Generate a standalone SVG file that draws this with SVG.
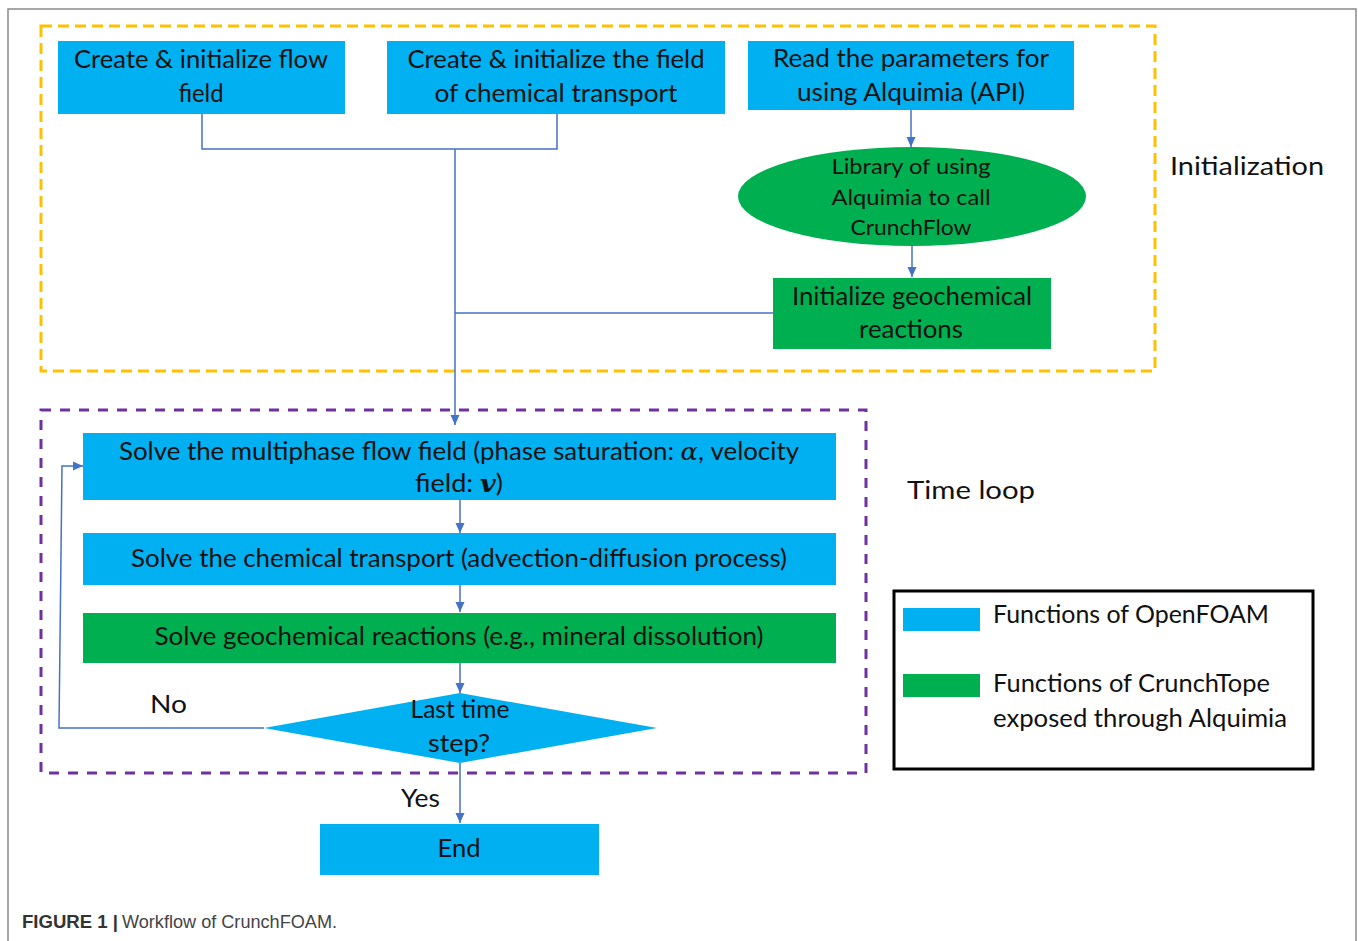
<svg xmlns="http://www.w3.org/2000/svg" width="1358" height="941" viewBox="0 0 1358 941">
<style>
.blue{fill:#00B0F0}
.green{fill:#00B050}
.t{font-family:Lato,"Open Sans","Liberation Sans",sans-serif;font-size:25px;fill:#111;text-anchor:middle}
.ts{font-size:22px}
.l{font-family:Lato,"Open Sans","Liberation Sans",sans-serif;font-size:25px;fill:#111}
.conn{fill:none;stroke:#4472C4;stroke-width:1.5}
.m{font-family:"DejaVu Serif","Liberation Serif",serif;font-style:italic}
</style>
<defs>
<marker id="ah" markerUnits="userSpaceOnUse" markerWidth="10" markerHeight="10" viewBox="0 0 10 10" refX="10" refY="5" orient="auto">
<path d="M0,0.5 L10,5 L0,9.5 Z" fill="#4472C4"/>
</marker>
</defs>
<rect width="1358" height="941" fill="#fff"/>
<path d="M8,941 V9 H1356 V941" fill="none" stroke="#8a8a8a" stroke-width="1.5"/>

<g id="init-region">
<rect x="41" y="26" width="1114" height="345" fill="none" stroke="#FFC000" stroke-width="3" stroke-dasharray="11,6"/>
<text class="l" x="1170" y="175" textLength="154" lengthAdjust="spacingAndGlyphs">Initialization</text>
</g>
<g id="loop-region">
<rect x="41" y="410" width="825" height="363" fill="none" stroke="#7030A0" stroke-width="3" stroke-dasharray="10,9"/>
<text class="l" x="907" y="499" textLength="128" lengthAdjust="spacingAndGlyphs">Time loop</text>
</g>

<g id="connectors">
<polyline class="conn" points="202,114 202,149 557,149 557,114"/>
<line class="conn" x1="455" y1="149" x2="455" y2="425" marker-end="url(#ah)"/>
<line class="conn" x1="773" y1="313" x2="455" y2="313"/>
<line class="conn" x1="911" y1="110" x2="911" y2="147" marker-end="url(#ah)"/>
<line class="conn" x1="912" y1="246" x2="912" y2="277" marker-end="url(#ah)"/>
<line class="conn" x1="460" y1="500" x2="460" y2="533" marker-end="url(#ah)"/>
<line class="conn" x1="460" y1="585" x2="460" y2="612" marker-end="url(#ah)"/>
<line class="conn" x1="460" y1="663" x2="460" y2="693" marker-end="url(#ah)"/>
<polyline class="conn" points="264,728 59,728 62,466 83,466" marker-end="url(#ah)"/>
<line class="conn" x1="460" y1="763" x2="460" y2="823" marker-end="url(#ah)"/>
<text class="l" x="150" y="713" textLength="37" lengthAdjust="spacingAndGlyphs">No</text>
<text class="l" x="401" y="807" textLength="39" lengthAdjust="spacingAndGlyphs">Yes</text>
</g>

<g id="create-flow">
<rect class="blue" x="58" y="41" width="287" height="73"/>
<text class="t" x="201" y="68" textLength="254" lengthAdjust="spacingAndGlyphs">Create &amp; initialize flow</text>
<text class="t" x="201" y="102" textLength="45" lengthAdjust="spacingAndGlyphs">field</text>
</g>
<g id="create-chem">
<rect class="blue" x="387" y="41" width="338" height="73"/>
<text class="t" x="556" y="68" textLength="297" lengthAdjust="spacingAndGlyphs">Create &amp; initialize the field</text>
<text class="t" x="556" y="102" textLength="243" lengthAdjust="spacingAndGlyphs">of chemical transport</text>
</g>
<g id="read-params">
<rect class="blue" x="748" y="41" width="326" height="69"/>
<text class="t" x="911" y="67" textLength="276" lengthAdjust="spacingAndGlyphs">Read the parameters for</text>
<text class="t" x="911" y="101" textLength="228" lengthAdjust="spacingAndGlyphs">using Alquimia (API)</text>
</g>
<g id="library">
<ellipse class="green" cx="912" cy="196.5" rx="174" ry="49.5"/>
<text class="t ts" x="911" y="174" textLength="159" lengthAdjust="spacingAndGlyphs">Library of using</text>
<text class="t ts" x="911" y="205" textLength="159" lengthAdjust="spacingAndGlyphs">Alquimia to call</text>
<text class="t ts" x="911" y="235" textLength="121" lengthAdjust="spacingAndGlyphs">CrunchFlow</text>
</g>
<g id="init-geochem">
<rect class="green" x="773" y="278" width="278" height="71"/>
<text class="t" x="912" y="305" textLength="240" lengthAdjust="spacingAndGlyphs">Initialize geochemical</text>
<text class="t" x="911" y="338" textLength="104" lengthAdjust="spacingAndGlyphs">reactions</text>
</g>
<g id="solve-flow">
<rect class="blue" x="83" y="433" width="753" height="67"/>
<text class="t" x="459" y="460" textLength="680" lengthAdjust="spacingAndGlyphs">Solve the multiphase flow field (phase saturation: <tspan class="m">α</tspan>, velocity</text>
<text class="t" x="459" y="492" textLength="88" lengthAdjust="spacingAndGlyphs">field: <tspan class="m" font-weight="bold">v</tspan>)</text>
</g>
<g id="solve-transport">
<rect class="blue" x="83" y="533" width="753" height="52"/>
<text class="t" x="459" y="567" textLength="656" lengthAdjust="spacingAndGlyphs">Solve the chemical transport (advection-diffusion process)</text>
</g>
<g id="solve-geochem">
<rect class="green" x="83" y="613" width="753" height="50"/>
<text class="t" x="459" y="645" textLength="609" lengthAdjust="spacingAndGlyphs">Solve geochemical reactions (e.g., mineral dissolution)</text>
</g>
<g id="last-step">
<polygon class="blue" points="460,693 657,728 460,763 264,728"/>
<text class="t" x="460" y="718" textLength="99" lengthAdjust="spacingAndGlyphs">Last time</text>
<text class="t" x="459" y="752" textLength="62" lengthAdjust="spacingAndGlyphs">step?</text>
</g>
<g id="end">
<rect class="blue" x="320" y="824" width="279" height="51"/>
<text class="t" x="459" y="857" textLength="43" lengthAdjust="spacingAndGlyphs">End</text>
</g>

<g id="legend">
<rect x="894" y="591" width="419" height="178" fill="none" stroke="#000" stroke-width="3"/>
<rect class="blue" x="903" y="608" width="77" height="23"/>
<rect class="green" x="903" y="674" width="77" height="23"/>
<text class="l" x="993" y="623" font-size="24" textLength="276" lengthAdjust="spacingAndGlyphs">Functions of OpenFOAM</text>
<text class="l" x="993" y="692" font-size="24" textLength="277" lengthAdjust="spacingAndGlyphs">Functions of CrunchTope</text>
<text class="l" x="993" y="727" font-size="24" textLength="294" lengthAdjust="spacingAndGlyphs">exposed through Alquimia</text>
</g>

<g id="caption">
<text x="22" y="928" font-family="'Liberation Sans',Arial,sans-serif" font-size="18" fill="#333"><tspan font-weight="bold" textLength="96" lengthAdjust="spacingAndGlyphs">FIGURE 1 |</tspan><tspan x="122" fill="#444" textLength="215" lengthAdjust="spacingAndGlyphs">Workflow of CrunchFOAM.</tspan></text>
</g>
</svg>
